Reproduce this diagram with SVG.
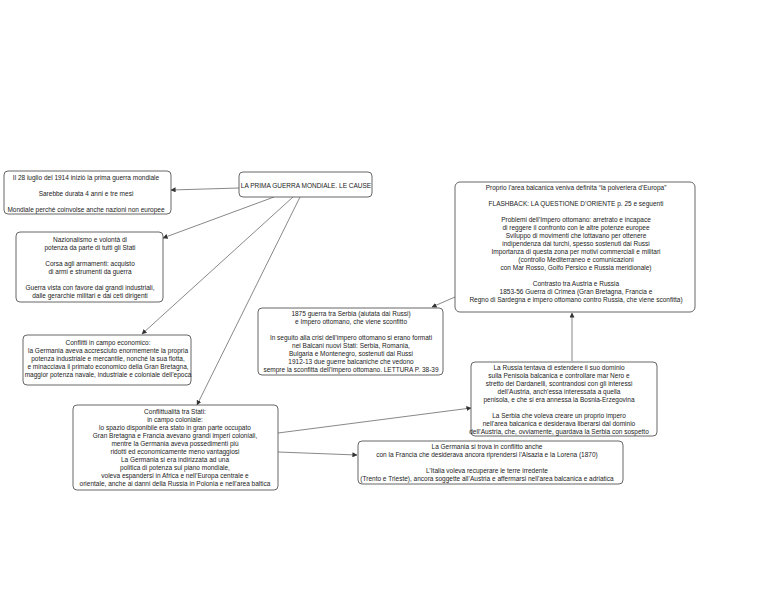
<svg xmlns="http://www.w3.org/2000/svg" width="768" height="593" viewBox="0 0 768 593">
<style>
.box{fill:#fff;stroke:#555;stroke-width:0.9}
text{font-family:"Liberation Sans",Arial,sans-serif;font-size:6.5px;fill:#222;text-anchor:middle}
.c{fill:none;stroke:#555;stroke-width:0.7;marker-end:url(#ah)}
</style>
<defs>
<marker id="ah" viewBox="0 0 6 6" refX="5.5" refY="3" markerWidth="5" markerHeight="5" orient="auto" markerUnits="userSpaceOnUse">
<path d="M0,0 L6,3 L0,6 z" fill="#333"/>
</marker>
</defs>
<rect width="768" height="593" fill="#fff"/>
<g id="connectors">
<line class="c" x1="239" y1="188" x2="171" y2="190"/>
<line class="c" x1="274" y1="197" x2="163" y2="238"/>
<line class="c" x1="293" y1="197" x2="142" y2="334"/>
<line class="c" x1="300" y1="197" x2="197" y2="405"/>
<line class="c" x1="455" y1="297" x2="432" y2="307"/>
<line class="c" x1="572" y1="361" x2="572" y2="313"/>
<line class="c" x1="278" y1="433" x2="471" y2="408"/>
<line class="c" x1="278" y1="452" x2="357" y2="455"/>
</g>
<g id="n-title">
<rect class="box" x="239" y="172" width="133" height="25" rx="4"/>
<text x="306" y="188">LA PRIMA GUERRA MONDIALE. LE CAUSE</text>
</g>
<g id="n-start">
<rect class="box" x="4" y="171" width="167" height="43" rx="4"/>
<text x="86" y="180">Il 28 luglio del 1914 iniziò la prima guerra mondiale</text>
<text x="86" y="196">Sarebbe durata 4 anni e tre mesi</text>
<text x="86" y="212">Mondiale perché coinvolse anche nazioni non europee</text>
</g>
<g id="n-naz">
<rect class="box" x="16" y="232" width="147" height="70" rx="4"/>
<text x="90" y="242">Nazionalismo e volontà di</text>
<text x="90" y="250">potenza da parte di tutti gli Stati</text>
<text x="90" y="266">Corsa agli armamenti: acquisto</text>
<text x="90" y="274">di armi e strumenti da guerra</text>
<text x="90" y="290">Guerra vista con favore dai grandi industriali,</text>
<text x="90" y="298">dalle gerarchie militari e dai ceti dirigenti</text>
</g>
<g id="n-econ">
<rect class="box" x="23" y="335" width="168" height="50" rx="4"/>
<text x="108" y="345">Conflitti in campo economico:</text>
<text x="108" y="353">la Germania aveva accresciuto enormemente la propria</text>
<text x="108" y="361">potenza industriale e mercantile, nonché la sua flotta,</text>
<text x="108" y="369">e minacciava il primato economico della Gran Bretagna,</text>
<text x="108" y="377">maggior potenza navale, industriale e coloniale dell’epoca</text>
</g>
<g id="n-colon">
<rect class="box" x="73" y="405" width="205" height="85" rx="4"/>
<text x="175" y="414">Conflittualità tra Stati:</text>
<text x="175" y="422">in campo coloniale:</text>
<text x="175" y="430">lo spazio disponibile era stato in gran parte occupato</text>
<text x="175" y="438">Gran Bretagna e Francia avevano grandi imperi coloniali,</text>
<text x="175" y="446">mentre la Germania aveva possedimenti più</text>
<text x="175" y="454">ridotti ed economicamente meno vantaggiosi</text>
<text x="175" y="462">La Germania si era indirizzata ad una</text>
<text x="175" y="470">politica di potenza sul piano mondiale,</text>
<text x="175" y="478">voleva espandersi in Africa e nell’Europa centrale e</text>
<text x="175" y="486">orientale, anche ai danni della Russia in Polonia e nell’area baltica</text>
</g>
<g id="n-balcani">
<rect class="box" x="455" y="182" width="240" height="130" rx="5"/>
<text x="576" y="190">Proprio l’area balcanica veniva definita “la polveriera d’Europa”</text>
<text x="576" y="206">FLASHBACK: LA QUESTIONE D’ORIENTE p. 25 e seguenti</text>
<text x="576" y="222">Problemi dell’Impero ottomano: arretrato e incapace</text>
<text x="576" y="230">di reggere il confronto con le altre potenze europee</text>
<text x="576" y="238">Sviluppo di movimenti che lottavano per ottenere</text>
<text x="576" y="246">indipendenza dai turchi, spesso sostenuti dai Russi</text>
<text x="576" y="254">Importanza di questa zona per motivi commerciali e militari</text>
<text x="576" y="262">(controllo Mediterraneo e comunicazioni</text>
<text x="576" y="270">con Mar Rosso, Golfo Persico e Russia meridionale)</text>
<text x="576" y="286">Contrasto tra Austria e Russia</text>
<text x="576" y="294">1853-56 Guerra di Crimea (Gran Bretagna, Francia e</text>
<text x="576" y="302">Regno di Sardegna e impero ottomano contro Russia, che viene sconfitta)</text>
</g>
<g id="n-1875">
<rect class="box" x="258" y="308" width="185" height="67" rx="4"/>
<text x="351" y="316">1875 guerra tra Serbia (aiutata dai Russi)</text>
<text x="351" y="324">e Impero ottomano, che viene sconfitto</text>
<text x="351" y="340">In seguito alla crisi dell’impero ottomano si erano formati</text>
<text x="351" y="348">nei Balcani nuovi Stati: Serbia, Romania,</text>
<text x="351" y="356">Bulgaria e Montenegro, sostenuti dai Russi</text>
<text x="351" y="364">1912-13 due guerre balcaniche che vedono</text>
<text x="351" y="372">sempre la sconfitta dell’impero ottomano. LETTURA P. 38-39</text>
</g>
<g id="n-russia">
<rect class="box" x="471" y="362" width="186" height="74" rx="4"/>
<text x="559" y="370">La Russia tentava di estendere il suo dominio</text>
<text x="559" y="378">sulla Penisola balcanica e controllare mar Nero e</text>
<text x="559" y="386">stretto dei Dardanelli, scontrandosi con gli interessi</text>
<text x="559" y="394">dell’Austria, anch’essa interessata a quella</text>
<text x="559" y="402">penisola, e che si era annessa la Bosnia-Erzegovina</text>
<text x="559" y="418">La Serbia che voleva creare un proprio impero</text>
<text x="559" y="426">nell’area balcanica e desiderava liberarsi dal dominio</text>
<text x="559" y="434">dell’Austria, che, ovviamente, guardava la Serbia con sospetto</text>
</g>
<g id="n-francia">
<rect class="box" x="358" y="441" width="265" height="43" rx="4"/>
<text x="487" y="449">La Germania si trova in conflitto anche</text>
<text x="487" y="457">con la Francia che desiderava ancora riprendersi l’Alsazia e la Lorena (1870)</text>
<text x="487" y="473">L’Italia voleva recuperare le terre irredente</text>
<text x="487" y="481">(Trento e Trieste), ancora soggette all’Austria e affermarsi nell’area balcanica e adriatica</text>
</g>
</svg>
